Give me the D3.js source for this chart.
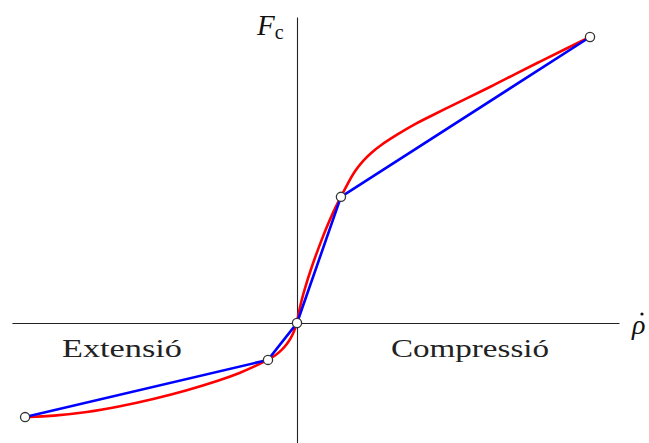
<!DOCTYPE html>
<html>
<head>
<meta charset="utf-8">
<script src="https://cdn.jsdelivr.net/npm/d3@7"></script>
<style>
  html, body { margin: 0; padding: 0; background: #fff; }
  svg { display: block; }
</style>
</head>
<body>
<svg id="chart" width="649" height="443"></svg>
<script>
// Damper characteristic: compression force vs. piston velocity
// Piecewise-linear approximation (knots)
const knotVel   = [-0.928, -0.099, 0, 0.150, 1.0];
const knotForce = [-0.329, -0.129, 0, 0.441, 1.0];

// Measured (smooth) characteristic
const curveVel = [
  -0.928, -0.833, -0.717, -0.604, -0.4915, -0.3754, -0.2628, -0.1945, -0.1502, -0.099,
  -0.0751, -0.0512, -0.0341, -0.0205, -0.0102, 0,
  0.0051, 0.0119, 0.0205, 0.0307, 0.0444, 0.0614, 0.0819, 0.1024, 0.1229, 0.1399, 0.150,
  0.1696, 0.1980, 0.2263, 0.2526, 0.2833, 0.3403, 0.3969, 0.4539, 0.5109, 0.5676, 0.6621,
  0.7440, 0.8294, 0.9147, 1.0
];
const curveForce = [
  -0.329, -0.3252, -0.3129, -0.2920, -0.2668, -0.2360, -0.2003, -0.1748, -0.1545, -0.129,
  -0.1147, -0.0939, -0.0738, -0.0521, -0.0301, 0,
  0.0315, 0.0636, 0.0977, 0.1339, 0.1780, 0.2287, 0.2853, 0.3378, 0.3860, 0.4227, 0.441,
  0.4808, 0.5332, 0.5689, 0.5944, 0.6206, 0.6580, 0.6930, 0.7220, 0.7510, 0.7801, 0.8266,
  0.8703, 0.9140, 0.9573, 1.0
];

const velExtent   = [-0.973, 1.099];
const forceExtent = [-0.42, 1.07];

const svg = d3.select("#chart");

const x = d3.scaleLinear().domain([-1, 1]).range([4, 590]);
const y = d3.scaleLinear().domain([-1, 1]).range([609, 37]);

// Axes through the origin, no ticks
svg.append("g")
  .attr("transform", `translate(0,${y(0)})`)
  .call(d3.axisBottom(d3.scaleLinear().domain(velExtent).range(velExtent.map(x))).ticks(0).tickSizeOuter(0))
  .call(g => g.select(".domain").attr("stroke", "#222").attr("stroke-width", 1.1));

svg.append("g")
  .attr("transform", `translate(${x(0)},0)`)
  .call(d3.axisLeft(d3.scaleLinear().domain(forceExtent).range(forceExtent.map(y))).ticks(0).tickSizeOuter(0))
  .call(g => g.select(".domain").attr("stroke", "#222").attr("stroke-width", 1.1));

// Smooth characteristic (red)
const curvePts = curveVel.map((v, i) => [v, curveForce[i]]);
svg.append("path")
  .datum(curvePts)
  .attr("fill", "none")
  .attr("stroke", "#ff0000")
  .attr("stroke-width", 2.6)
  .attr("stroke-linejoin", "round")
  .attr("d", d3.line().x(d => x(d[0])).y(d => y(d[1])).curve(d3.curveBasis));

// Linearised characteristic (blue)
const knotPts = knotVel.map((v, i) => [v, knotForce[i]]);
svg.append("path")
  .datum(knotPts)
  .attr("fill", "none")
  .attr("stroke", "#0000ff")
  .attr("stroke-width", 2.6)
  .attr("d", d3.line().x(d => x(d[0])).y(d => y(d[1])));

// Knot markers
svg.selectAll("circle.knot")
  .data(knotPts)
  .join("circle")
  .attr("class", "knot")
  .attr("cx", d => x(d[0]))
  .attr("cy", d => y(d[1]))
  .attr("r", 4.6)
  .attr("fill", "#fff")
  .attr("stroke", "#333")
  .attr("stroke-width", 1.3);

// Axis labels
const serif = "'Liberation Serif', 'Times New Roman', serif";
const fLabel = svg.append("text")
  .attr("x", 257).attr("y", 35)
  .attr("font-family", serif).attr("font-size", 29).attr("fill", "#111");
fLabel.append("tspan").attr("font-style", "italic").text("F");
fLabel.append("tspan").attr("font-size", 20).attr("dx", 0).attr("dy", 4).text("c");

svg.append("text")
  .attr("x", 632).attr("y", 334)
  .attr("font-family", serif).attr("font-size", 28).attr("font-style", "italic").attr("fill", "#111")
  .text("ρ");
svg.append("circle")
  .attr("cx", 642).attr("cy", 314).attr("r", 1.6).attr("fill", "#111");

// Region labels
svg.append("text")
  .attr("x", 62).attr("y", 357)
  .attr("font-family", serif).attr("font-size", 25).attr("fill", "#222")
  .attr("textLength", 120).attr("lengthAdjust", "spacingAndGlyphs")
  .text("Extensió");
svg.append("text")
  .attr("x", 391).attr("y", 357)
  .attr("font-family", serif).attr("font-size", 25).attr("fill", "#222")
  .attr("textLength", 158).attr("lengthAdjust", "spacingAndGlyphs")
  .text("Compressió");
</script>
</body>
</html>
